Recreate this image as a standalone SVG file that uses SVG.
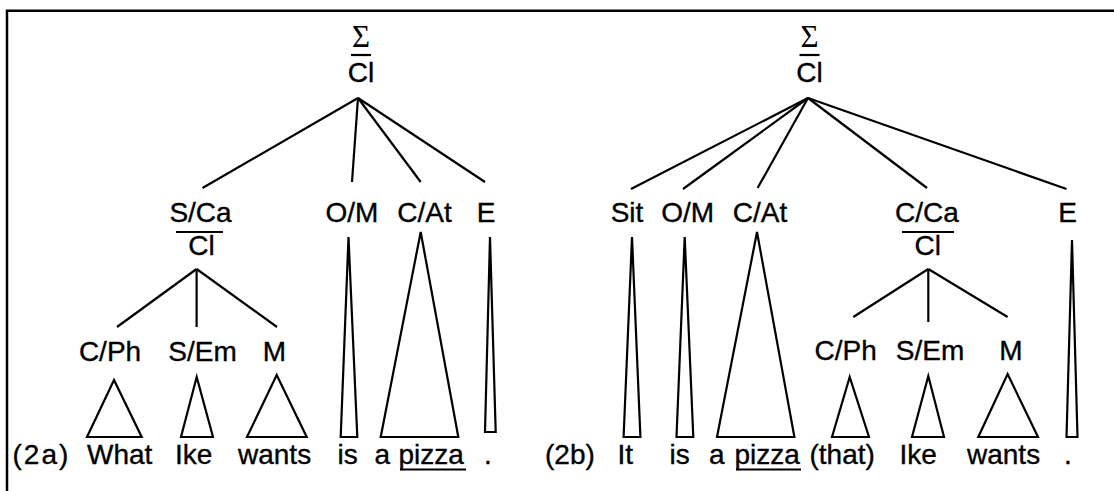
<svg xmlns="http://www.w3.org/2000/svg" width="1114" height="491" viewBox="0 0 1114 491">
  <style>
    .lbl { font-family: "Liberation Sans", Arial, sans-serif; font-size: 28px; fill: #000; stroke: #000; stroke-width: 0.35; text-anchor: middle; }
    .wd { font-family: "Liberation Sans", Arial, sans-serif; font-size: 28px; fill: #000; stroke: #000; stroke-width: 0.35; }
    .sig { font-family: "Liberation Serif", "Times New Roman", serif; font-size: 31px; fill: #000; text-anchor: middle; }
    .edge { stroke: #000; stroke-width: 2.2; fill: none; }
    .bar { stroke: #000; stroke-width: 2.2; }
    .ul { stroke: #000; stroke-width: 2; }
    .tri { fill: #fff; stroke: #000; stroke-width: 2.2; stroke-linejoin: miter; }
    .frame { stroke: #000; stroke-width: 2.5; fill: none; }
  </style>

  <!-- border -->
  <path class="frame" d="M7,491 V10.7 H1114"/>

  <!-- connectors -->
  <g id="connectors">
    <!-- tree (2a) -->
    <line class="edge" x1="358" y1="98" x2="202.5" y2="188"/>
    <line class="edge" x1="358" y1="98" x2="352" y2="182"/>
    <line class="edge" x1="358" y1="98" x2="420.7" y2="182"/>
    <line class="edge" x1="358" y1="98" x2="485" y2="182"/>
    <line class="edge" x1="196.6" y1="269" x2="117" y2="327"/>
    <line class="edge" x1="196.6" y1="269" x2="196.6" y2="327"/>
    <line class="edge" x1="196.6" y1="269" x2="277" y2="327"/>
    <!-- tree (2b) -->
    <line class="edge" x1="808" y1="98" x2="631" y2="189"/>
    <line class="edge" x1="808" y1="98" x2="683" y2="189"/>
    <line class="edge" x1="808" y1="98" x2="757.6" y2="188"/>
    <line class="edge" x1="808" y1="98" x2="927" y2="188"/>
    <line class="edge" x1="808" y1="98" x2="1066.5" y2="189"/>
    <line class="edge" x1="928.3" y1="269" x2="853.3" y2="317"/>
    <line class="edge" x1="928.3" y1="269" x2="928.3" y2="322"/>
    <line class="edge" x1="928.3" y1="269" x2="1007.6" y2="317"/>
  </g>

  <!-- ===== (2a) ===== -->
  <g id="a-root">
    <text class="sig" x="361" y="47">Σ</text>
    <line class="bar" x1="351" y1="55" x2="371" y2="55"/>
    <text class="lbl" x="361" y="82">Cl</text>
  </g>
  <g id="a-sca">
    <text class="lbl" x="200.5" y="222">S/Ca</text>
    <line class="bar" x1="176" y1="232" x2="223" y2="232"/>
    <text class="lbl" x="201.5" y="255">Cl</text>
  </g>
  <g id="a-om">
    <text class="lbl" x="352" y="222">O/M</text>
    <polygon class="tri" points="348.5,237 357.3,437 340.7,437"/>
  </g>
  <g id="a-cat">
    <text class="lbl" x="424.6" y="222">C/At</text>
    <polygon class="tri" points="420.7,232 458.3,437 380.7,437"/>
  </g>
  <g id="a-e">
    <text class="lbl" x="486" y="222">E</text>
    <polygon class="tri" points="490,237 495.7,432 485,432"/>
  </g>
  <g id="a-cph">
    <text class="lbl" x="110" y="360.5">C/Ph</text>
    <polygon class="tri" points="114,380 141.7,437 87,437"/>
  </g>
  <g id="a-sem">
    <text class="lbl" x="202.5" y="360.5">S/Em</text>
    <polygon class="tri" points="196.7,377 213,437 181,437"/>
  </g>
  <g id="a-m">
    <text class="lbl" x="274.5" y="360.5">M</text>
    <polygon class="tri" points="276.7,375 306.7,437 247,437"/>
  </g>
  <g id="a-words">
    <text class="wd" x="12.5" y="463.5" font-size="30" letter-spacing="2">(2a)</text>
    <text class="wd" x="87" y="463.5">What</text>
    <text class="wd" x="175" y="463.5">Ike</text>
    <text class="wd" x="238" y="463.5">wants</text>
    <text class="wd" x="337.5" y="463.5">is</text>
    <text class="wd" x="374.5" y="463.5">a</text>
    <text class="wd" x="398.5" y="463.5">pizza</text>
    <line class="ul" x1="400" y1="469.5" x2="466" y2="469.5"/>
    <text class="wd" x="484" y="463.5">.</text>
  </g>

  <!-- ===== (2b) ===== -->
  <g id="b-root">
    <text class="sig" x="809.5" y="47">Σ</text>
    <line class="bar" x1="799.5" y1="55" x2="819.5" y2="55"/>
    <text class="lbl" x="809.5" y="82">Cl</text>
  </g>
  <g id="b-sit">
    <text class="lbl" x="627" y="222">Sit</text>
    <polygon class="tri" points="632,237 640.4,437 623.6,437"/>
  </g>
  <g id="b-om">
    <text class="lbl" x="687.6" y="222">O/M</text>
    <polygon class="tri" points="684.7,237 693.3,437 676.5,437"/>
  </g>
  <g id="b-cat">
    <text class="lbl" x="760" y="222">C/At</text>
    <polygon class="tri" points="757,232 794.4,437 717,437"/>
  </g>
  <g id="b-cca">
    <text class="lbl" x="927" y="222">C/Ca</text>
    <line class="bar" x1="902" y1="232" x2="954" y2="232"/>
    <text class="lbl" x="927.8" y="255">Cl</text>
  </g>
  <g id="b-e">
    <text class="lbl" x="1067.6" y="222">E</text>
    <polygon class="tri" points="1072,240 1077.5,437 1066.5,437"/>
  </g>
  <g id="b-cph">
    <text class="lbl" x="845.6" y="360">C/Ph</text>
    <polygon class="tri" points="849.7,377 869,437 832,437"/>
  </g>
  <g id="b-sem">
    <text class="lbl" x="930" y="360">S/Em</text>
    <polygon class="tri" points="928.3,376 944,437 912,437"/>
  </g>
  <g id="b-m">
    <text class="lbl" x="1010.8" y="360">M</text>
    <polygon class="tri" points="1007.6,374 1038,437 978.3,437"/>
  </g>
  <g id="b-words">
    <text class="wd" x="545" y="463.5">(2b)</text>
    <text class="wd" x="617.5" y="463.5">It</text>
    <text class="wd" x="669.5" y="463.5">is</text>
    <text class="wd" x="709" y="463.5">a</text>
    <text class="wd" x="734.5" y="463.5">pizza</text>
    <line class="ul" x1="736" y1="469.5" x2="801" y2="469.5"/>
    <text class="wd" x="809.5" y="463.5">(that)</text>
    <text class="wd" x="899.5" y="463.5">Ike</text>
    <text class="wd" x="967" y="463.5">wants</text>
    <text class="wd" x="1064" y="463.5">.</text>
  </g>
</svg>
